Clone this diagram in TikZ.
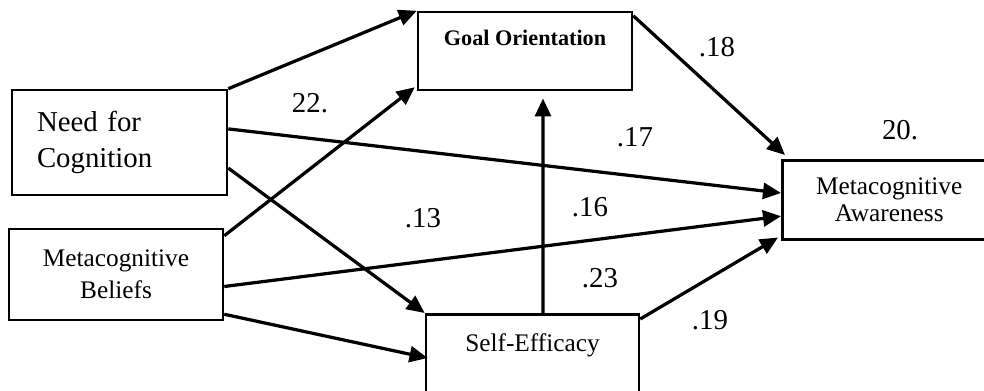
\documentclass[tikz,border=0pt]{standalone}
\usepackage{fontspec}
\setmainfont{Liberation Serif}
\usetikzlibrary{arrows.meta}

\begin{document}
\begin{tikzpicture}
    \tikzset{box/.style={draw, line width=1.8pt, inner sep=0pt, align=center}}
    \tikzset{link/.style={line width=2.3pt, -{Triangle[length=0.45cm, width=0.4cm]}}}
    \tikzset{coef/.style={font=\fontsize{20.5}{24}\selectfont, inner sep=0pt}}
    \useasboundingbox (0, 0) rectangle (24.6, 9.75);
    \clip (0, 0) rectangle (24.6, 9.75);
    % variables
    \node[box, minimum width=5.375cm, minimum height=2.625cm, text width=4.125cm, inner xsep=0.625cm,
        align=left, font=\fontsize{20.5}{25.5}\selectfont] (nfc) at (2.9875, 6.1875) {Need for\\Cognition};
    \node[box, minimum width=5.35cm, minimum height=1.95cm, text height=0.4cm, text depth=0.69cm,
        font=\bfseries\fontsize{15.8}{19}\selectfont] (go) at (13.125, 8.475) {Goal Orientation};
    \node[box, minimum width=5.35cm, minimum height=2.275cm,
        font=\fontsize{18}{22.8}\selectfont] (mb) at (2.9, 2.8875) {Metacognitive\\Beliefs};
    \node[box, anchor=north, minimum width=5.325cm, text height=0.935cm, text depth=2cm,
        font=\fontsize{18}{22}\selectfont] (se) at (13.3125, 1.925) {Self-Efficacy};
    \node[box, anchor=north west, minimum height=1.975cm, text width=4.75cm, inner xsep=0.3cm,
        font=\fontsize{18}{19.5}\selectfont] (ma) at (19.525, 5.775) {Metacognitive\\Awareness};
    % paths
    \draw[link] (nfc.north east) -- (go.north west);
    \draw[link] ([yshift=-0.2cm]mb.north east) -- ([xshift=-0.05cm, yshift=0.1cm]go.south west);
    \draw[link] ([yshift=0.34cm]nfc.east) -- ([yshift=-0.85cm]ma.north west);
    \draw[link] ([yshift=-0.64cm]nfc.east) -- (se.north west);
    \draw[link] ([yshift=-0.3cm]mb.east) -- ([yshift=-0.41cm]ma.west);
    \draw[link] ([yshift=0.175cm]mb.south east) -- ([xshift=0.07cm, yshift=-1.125cm]se.north west);
    \draw[link] ([xshift=0.26cm]se.north) -- ([xshift=0.45cm, yshift=-0.18cm]go.south);
    \draw[link] ([yshift=-0.125cm]go.north east) -- ([xshift=0.1cm, yshift=0.1cm]ma.north west);
    \draw[link] ([yshift=-0.15cm]se.north east) -- ([xshift=-0.075cm, yshift=0.075cm]ma.south west);
    % coefficients
    \foreach \n/\x/\y/\t in {c1/7.75/7.175/22., c2/17.925/8.575/.18, c3/15.875/6.325/.17,
        c4/22.5/6.5/20., c5/10.575/4.3/.13, c6/14.75/4.575/.16, c7/15.0/2.8/.23, c8/17.75/1.75/.19} {
        \node[coef] (\n) at (\x, \y) {\t};
    }
\end{tikzpicture}
\end{document}
